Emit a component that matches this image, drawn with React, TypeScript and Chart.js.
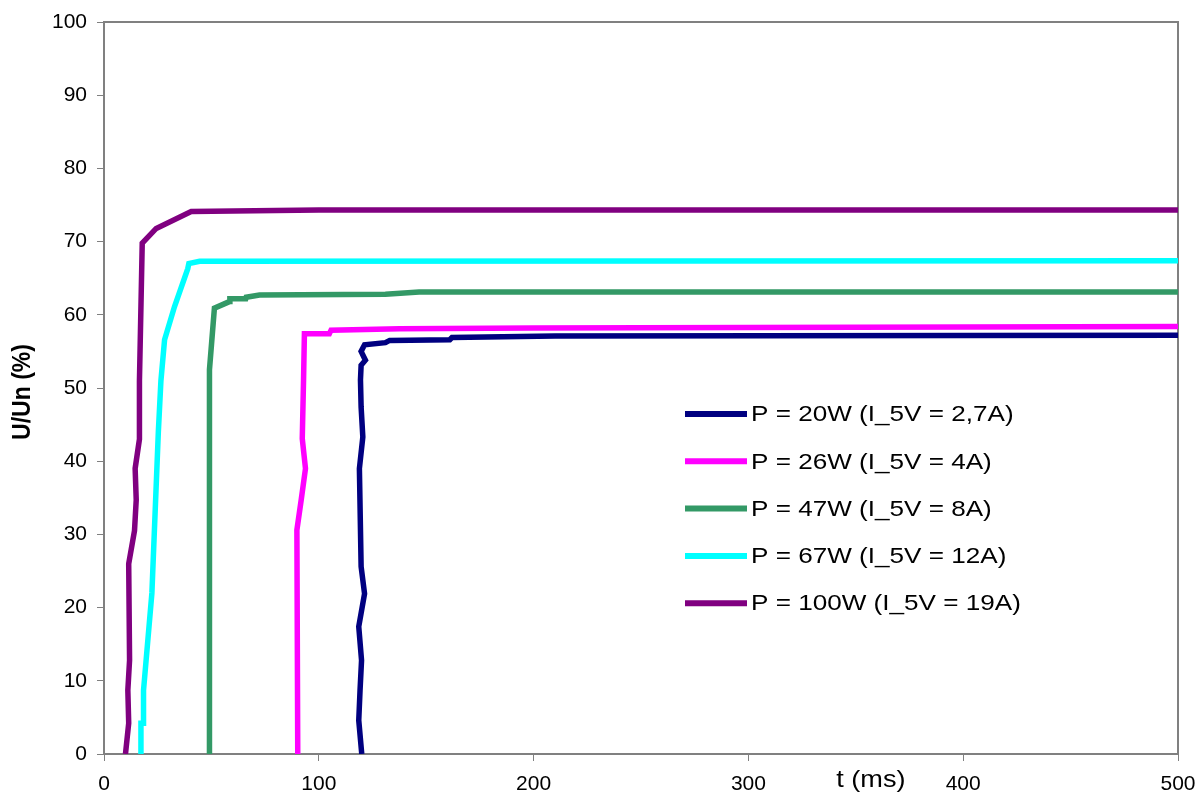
import React, { useEffect, useRef } from "react";
import { Chart, registerables } from "chart.js";

Chart.register(...registerables);

// ---- data (t in ms, U/Un in %) ----
const seriesLabels = [
  "P = 20W (I_5V = 2,7A)",
  "P = 26W (I_5V = 4A)",
  "P = 47W (I_5V = 8A)",
  "P = 67W (I_5V = 12A)",
  "P = 100W (I_5V = 19A)",
];
const seriesColors = ["#000080", "#FF00FF", "#339966", "#00FFFF", "#800080"];

const t20 = [120, 118.6, 119.2, 119.9, 118.6, 121.3, 119.7, 118.9, 120.5, 119.7, 119.4, 119.7, 121.7, 119.7, 121.3, 131, 133, 161, 162, 210, 500];
const u20 = [0, 4.6, 8.7, 12.8, 17.4, 21.9, 25.6, 39, 43.3, 47.4, 51.1, 53.1, 53.8, 55, 55.9, 56.2, 56.5, 56.6, 56.9, 57.1, 57.2];

const t26 = [90.2, 89.8, 91.8, 93.8, 92.3, 92.9, 93.3, 104.9, 105.7, 137.6, 200, 500];
const u26 = [0, 30.6, 34.7, 39, 43.1, 51.1, 57.4, 57.4, 57.9, 58.1, 58.2, 58.4];

const t47 = [49.1, 49.1, 51.4, 58.4, 58.6, 66, 66.2, 72.4, 131, 146.7, 500];
const u47 = [0, 52.5, 60.9, 61.8, 62.2, 62.2, 62.4, 62.7, 62.8, 63.1, 63.1];

const t67 = [17.2, 17.2, 18.2, 18.4, 22.3, 25.3, 26.5, 28.2, 32.8, 39, 39.5, 44.5, 500];
const u67 = [0, 4.2, 4.2, 8.7, 22, 44, 51, 56.6, 61.1, 66.3, 67, 67.3, 67.4];

const t100 = [10, 11.5, 11.1, 11.9, 11.5, 14.2, 15, 14.5, 16.5, 16.5, 17.8, 24.3, 40.6, 100, 500];
const u100 = [0, 4.2, 8.7, 12.8, 26, 30.5, 34.7, 39, 43, 51, 69.8, 71.8, 74.1, 74.3, 74.3];

const seriesT = [t20, t26, t47, t67, t100];
const seriesU = [u20, u26, u47, u67, u100];

const xTitle = "t (ms)";
const yTitle = "U/Un (%)";

const FONT = "'Liberation Sans', Arial, sans-serif";

const decorPlugin = {
  id: "decor",
  beforeDatasetsDraw(chart: any) {
    const { ctx, chartArea } = chart;
    ctx.save();
    ctx.strokeStyle = "#808080";
    ctx.lineWidth = 2;
    ctx.strokeRect(chartArea.left, chartArea.top, chartArea.right - chartArea.left, chartArea.bottom - chartArea.top);
    ctx.restore();
  },
  afterDraw(chart: any) {
    const { ctx, scales } = chart;
    ctx.save();
    ctx.fillStyle = "#000000";
    // y title
    ctx.save();
    ctx.translate(23, (chart.chartArea.top + chart.chartArea.bottom) / 2 + 4);
    ctx.rotate(-Math.PI / 2);
    ctx.scale(1, 1.16);
    ctx.font = `bold 23px ${FONT}`;
    ctx.textAlign = "center";
    ctx.textBaseline = "middle";
    ctx.fillText(yTitle, 0, 0);
    ctx.restore();
    // x title
    ctx.save();
    ctx.translate(scales.x.getPixelForValue(357), 780);
    ctx.scale(1.13, 1);
    ctx.font = `24px ${FONT}`;
    ctx.textAlign = "center";
    ctx.textBaseline = "middle";
    ctx.fillText(xTitle, 0, 0);
    ctx.restore();
    // legend
    const x0 = 685;
    const y0 = 414;
    const step = 47.3;
    chart.data.datasets.forEach((ds: any, i: number) => {
      const y = y0 + i * step;
      ctx.strokeStyle = ds.borderColor;
      ctx.lineWidth = 6;
      ctx.beginPath();
      ctx.moveTo(x0, y);
      ctx.lineTo(x0 + 62, y);
      ctx.stroke();
      ctx.save();
      ctx.translate(x0 + 66, y + 1);
      ctx.scale(1.16, 1);
      ctx.font = `22.5px ${FONT}`;
      ctx.textAlign = "left";
      ctx.textBaseline = "middle";
      ctx.fillStyle = "#000000";
      ctx.fillText(ds.label, 0, 0);
      ctx.restore();
    });
    ctx.restore();
  },
};

export default function App() {
  const ref = useRef<HTMLCanvasElement | null>(null);
  useEffect(() => {
    document.body.style.margin = "0";
    const canvas = ref.current;
    if (!canvas) return;
    const datasets = seriesLabels.map((label, i) => ({
      label,
      data: seriesT[i].map((t, k) => ({ x: t, y: seriesU[i][k] })),
      borderColor: seriesColors[i],
      backgroundColor: seriesColors[i],
      borderWidth: 5.5,
      pointRadius: 0,
      tension: 0,
      fill: false,
      borderJoinStyle: "miter" as const,
    }));
    const chart = new Chart(canvas, {
      type: "line",
      data: { datasets },
      options: {
        animation: false,
        responsive: false,
        devicePixelRatio: 1,
        layout: { padding: { top: 22, right: 22, left: 0, bottom: 0 } },
        plugins: { legend: { display: false }, tooltip: { enabled: false } },
        scales: {
          x: {
            type: "linear",
            min: 0,
            max: 500,
            ticks: { stepSize: 100, color: "#000", font: { family: FONT, size: 21 }, padding: 11, maxRotation: 0 },
            grid: { display: true, drawOnChartArea: false, drawTicks: true, tickLength: 7, color: "#808080" },
            border: { display: false },
            afterFit(scale: any) {
              scale.height = 42;
              scale.paddingLeft = 0;
              scale.paddingRight = 0;
            },
          },
          y: {
            min: 0,
            max: 100,
            ticks: { stepSize: 10, color: "#000", font: { family: FONT, size: 21 }, padding: 10 },
            grid: { display: true, drawOnChartArea: false, drawTicks: true, tickLength: 7, color: "#808080" },
            border: { display: false },
            afterFit(scale: any) {
              scale.width = 104;
              scale.paddingTop = 0;
              scale.paddingBottom = 0;
            },
          },
        },
      },
      plugins: [decorPlugin],
    });
    return () => chart.destroy();
  }, []);
  return (
    <div style={{ width: 1200, height: 796 }}>
      <canvas ref={ref} width={1200} height={796} style={{ display: "block" }} />
    </div>
  );
}
